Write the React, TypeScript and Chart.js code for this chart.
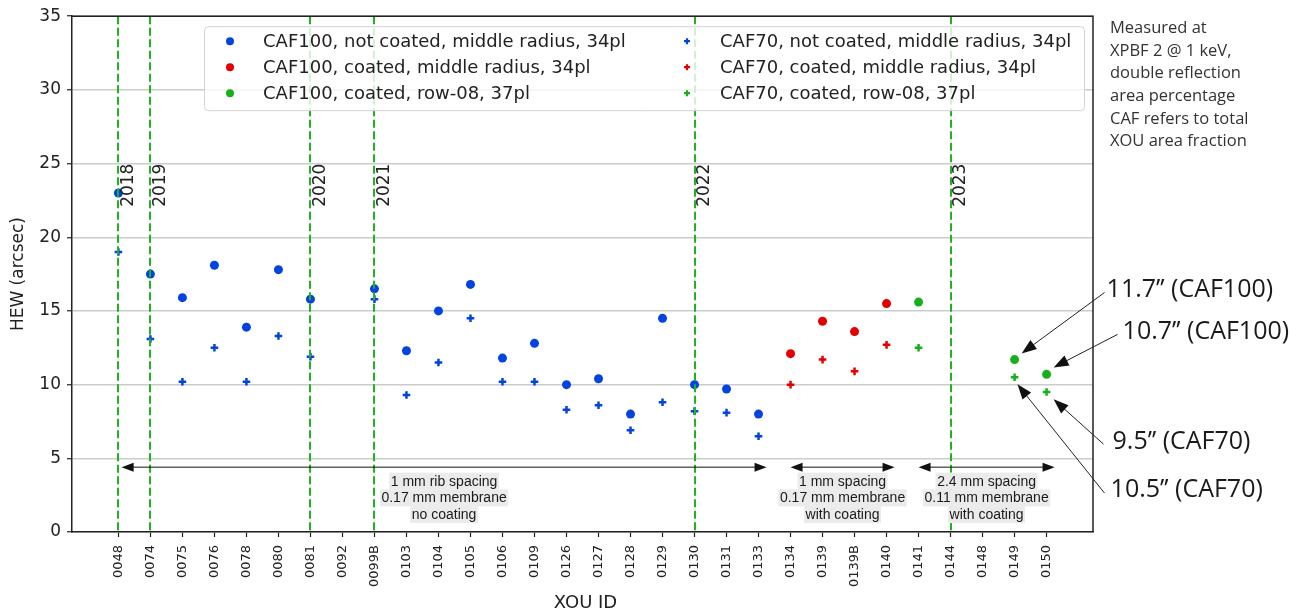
import React, { useEffect, useRef } from 'react';
import { Chart, registerables } from 'chart.js';

Chart.register(...registerables);

// ---------- data ----------
const categories = [
  '0048', '0074', '0075', '0076', '0078', '0080', '0081', '0092', '0099B', '0103',
  '0104', '0105', '0106', '0109', '0126', '0127', '0128', '0129', '0130', '0131',
  '0133', '0134', '0139', '0139B', '0140', '0141', '0144', '0148', '0149', '0150',
];

const caf100NotCoated = [
  23.0, 17.5, 15.9, 18.1, 13.9, 17.8, 15.8, null, 16.5, 12.3,
  15.0, 16.8, 11.8, 12.8, 10.0, 10.4, 8.0, 14.5, 10.0, 9.7,
  8.0, null, null, null, null, null, null, null, null, null,
];
const caf100CoatedMid = [
  null, null, null, null, null, null, null, null, null, null,
  null, null, null, null, null, null, null, null, null, null,
  null, 12.1, 14.3, 13.6, 15.5, null, null, null, null, null,
];
const caf100Row08 = [
  null, null, null, null, null, null, null, null, null, null,
  null, null, null, null, null, null, null, null, null, null,
  null, null, null, null, null, 15.6, null, null, 11.7, 10.7,
];
const caf70NotCoated = [
  19.0, 13.1, 10.2, 12.5, 10.2, 13.3, 11.9, null, 15.8, 9.3,
  11.5, 14.5, 10.2, 10.2, 8.3, 8.6, 6.9, 8.8, 8.2, 8.1,
  6.5, null, null, null, null, null, null, null, null, null,
];
const caf70CoatedMid = [
  null, null, null, null, null, null, null, null, null, null,
  null, null, null, null, null, null, null, null, null, null,
  null, 10.0, 11.7, 10.9, 12.7, null, null, null, null, null,
];
const caf70Row08 = [
  null, null, null, null, null, null, null, null, null, null,
  null, null, null, null, null, null, null, null, null, null,
  null, null, null, null, null, 12.5, null, null, 10.5, 9.5,
];

const seriesLabels = [
  'CAF100, not coated, middle radius, 34pl',
  'CAF100, coated, middle radius, 34pl',
  'CAF100, coated, row-08, 37pl',
  'CAF70, not coated, middle radius, 34pl',
  'CAF70, coated, middle radius, 34pl',
  'CAF70, coated, row-08, 37pl',
];
const seriesValues = [caf100NotCoated, caf100CoatedMid, caf100Row08, caf70NotCoated, caf70CoatedMid, caf70Row08];
const seriesColors = ['#0343df', '#e50000', '#15b01a', '#0343df', '#e50000', '#15b01a'];
const seriesMarkers = ['circle', 'circle', 'circle', 'cross', 'cross', 'cross'];

const yTicks = [0, 5, 10, 15, 20, 25, 30, 35];

const yearLineIdx = [0, 1, 6, 8, 18, 26];
const yearLabels = ['2018', '2019', '2020', '2021', '2022', '2023'];
const yearLabelY = 25;

const spanStarts = [0.1, 21, 25];
const spanEnds = [20.25, 24.25, 29.25];
const spanY = 4.4;
const spanTexts = [
  ['1 mm rib spacing', '0.17 mm membrane', 'no coating'],
  ['1 mm spacing', '0.17 mm membrane', 'with coating'],
  ['2.4 mm spacing', '0.11 mm membrane', 'with coating'],
];

const noteLines = [
  'Measured at',
  'XPBF 2 @ 1 keV,',
  'double reflection',
  'area percentage',
  'CAF refers to total',
  'XOU area fraction',
];

const calloutTexts = ['11.7\u2019\u2019 (CAF100)', '10.7\u2019\u2019 (CAF100)', '9.5\u2019\u2019 (CAF70)', '10.5\u2019\u2019 (CAF70)'];
const calloutTextX = [30.875, 31.375, 31.06, 31.0];
const calloutTextY = [16.45, 13.61, 6.09, 2.84];
const calloutFromX = [30.81, 31.22, 30.78, 30.81];
const calloutFromY = [16.25, 13.41, 5.96, 2.64];
const calloutToX = [28.22, 29.22, 29.22, 28.09];
const calloutToY = [12.12, 11.17, 9.0, 10.02];

// ---------- helpers ----------
function drawHead(ctx: CanvasRenderingContext2D, tx: number, ty: number, fx: number, fy: number, len: number, half: number) {
  const dx = tx - fx;
  const dy = ty - fy;
  const d = Math.hypot(dx, dy) || 1;
  const ux = dx / d;
  const uy = dy / d;
  const bx = tx - ux * len;
  const by = ty - uy * len;
  ctx.beginPath();
  ctx.moveTo(tx, ty);
  ctx.lineTo(bx - uy * half, by + ux * half);
  ctx.lineTo(bx + uy * half, by - ux * half);
  ctx.closePath();
  ctx.fill();
}

function drawMarker(ctx: CanvasRenderingContext2D, kind: string, x: number, y: number, color: string, r: number) {
  ctx.save();
  if (kind === 'circle') {
    ctx.fillStyle = color;
    ctx.beginPath();
    ctx.arc(x, y, r, 0, Math.PI * 2);
    ctx.fill();
  } else {
    ctx.strokeStyle = color;
    ctx.lineWidth = 2.2;
    ctx.beginPath();
    ctx.moveTo(x - r, y);
    ctx.lineTo(x + r, y);
    ctx.moveTo(x, y - r);
    ctx.lineTo(x, y + r);
    ctx.stroke();
  }
  ctx.restore();
}

const overlayPlugin = {
  id: 'overlay',
  afterDatasetsDraw(chart: any) {
    const { ctx, chartArea, scales } = chart;
    const xs = scales.x;
    const ys = scales.y;
    ctx.save();
    // vertical year lines
    ctx.strokeStyle = '#1fb41f';
    ctx.lineWidth = 2;
    ctx.setLineDash([8, 3.5]);
    yearLineIdx.forEach((idx) => {
      const x = Math.round(xs.getPixelForValue(idx));
      ctx.beginPath();
      ctx.moveTo(x, chartArea.top);
      ctx.lineTo(x, chartArea.bottom);
      ctx.stroke();
    });
    ctx.setLineDash([]);
    // year labels
    ctx.fillStyle = '#222';
    ctx.font = '17px "DejaVu Sans"';
    ctx.textAlign = 'right';
    ctx.textBaseline = 'top';
    yearLineIdx.forEach((idx, i) => {
      const x = xs.getPixelForValue(idx);
      const y = ys.getPixelForValue(yearLabelY);
      ctx.save();
      ctx.translate(x + 2, y);
      ctx.rotate(-Math.PI / 2);
      ctx.fillText(yearLabels[i], 0, 0);
      ctx.restore();
    });
    ctx.restore();
  },
  afterDraw(chart: any) {
    const { ctx, chartArea, scales } = chart;
    const xs = scales.x;
    const ys = scales.y;
    ctx.save();
    // top/right spines
    ctx.strokeStyle = '#222';
    ctx.lineWidth = 1.5;
    ctx.beginPath();
    ctx.moveTo(chartArea.left, chartArea.top);
    ctx.lineTo(chartArea.right, chartArea.top);
    ctx.lineTo(chartArea.right, chartArea.bottom);
    ctx.stroke();

    // legend
    const lx = chartArea.left + 132;
    const ly = chartArea.top + 10;
    const lw = 880;
    const lh = 84;
    ctx.fillStyle = 'rgba(255,255,255,0.8)';
    ctx.strokeStyle = '#d4d4d4';
    ctx.lineWidth = 1;
    ctx.beginPath();
    (ctx as any).roundRect(lx + 0.5, ly + 0.5, lw, lh, 4);
    ctx.fill();
    ctx.stroke();
    ctx.font = '18px "DejaVu Sans"';
    ctx.textAlign = 'left';
    ctx.textBaseline = 'middle';
    seriesLabels.forEach((label, i) => {
      const col = Math.floor(i / 3);
      const row = i % 3;
      const mx = lx + 26 + col * 457;
      const my = ly + 15 + row * 26;
      drawMarker(ctx, seriesMarkers[i], mx, my, seriesColors[i], seriesMarkers[i] === 'circle' ? 4 : 3);
      ctx.fillStyle = '#222';
      ctx.fillText(label, mx + 33, my + 1);
    });

    // span arrows with labels
    ctx.strokeStyle = '#111';
    ctx.fillStyle = '#111';
    ctx.lineWidth = 1;
    const ay = ys.getPixelForValue(spanY);
    spanStarts.forEach((s, i) => {
      const x1 = xs.getPixelForValue(s);
      const x2 = xs.getPixelForValue(spanEnds[i]);
      ctx.beginPath();
      ctx.moveTo(x1 + 6, ay);
      ctx.lineTo(x2 - 6, ay);
      ctx.stroke();
      drawHead(ctx, x1, ay, x2, ay, 12, 4.5);
      drawHead(ctx, x2, ay, x1, ay, 12, 4.5);
      const cx = (x1 + x2) / 2;
      ctx.font = '14px "Liberation Sans"';
      ctx.textAlign = 'center';
      ctx.textBaseline = 'middle';
      spanTexts[i].forEach((t, j) => {
        const ty = ay + 14 + j * 16.7;
        const w = ctx.measureText(t).width;
        ctx.fillStyle = '#ebebeb';
        ctx.fillRect(cx - w / 2 - 1.5, ty - 8.5, w + 3, 17);
        ctx.fillStyle = '#1a1a1a';
        ctx.fillText(t, cx, ty + 0.5);
      });
      ctx.fillStyle = '#111';
    });

    // callouts
    ctx.strokeStyle = '#222';
    ctx.fillStyle = '#111';
    ctx.lineWidth = 1;
    calloutTexts.forEach((t, i) => {
      const fx = xs.getPixelForValue(calloutFromX[i]);
      const fy = ys.getPixelForValue(calloutFromY[i]);
      const tx = xs.getPixelForValue(calloutToX[i]);
      const ty = ys.getPixelForValue(calloutToY[i]);
      const d = Math.hypot(tx - fx, ty - fy);
      const ex = tx - ((tx - fx) / d) * 12;
      const ey = ty - ((ty - fy) / d) * 12;
      ctx.beginPath();
      ctx.moveTo(fx, fy);
      ctx.lineTo(ex, ey);
      ctx.stroke();
      drawHead(ctx, tx, ty, fx, fy, 15, 5.5);
      ctx.font = '25px "Open Sans"';
      ctx.textAlign = 'left';
      ctx.textBaseline = 'middle';
      ctx.fillStyle = '#1a1a1a';
      ctx.fillText(t, xs.getPixelForValue(calloutTextX[i]), ys.getPixelForValue(calloutTextY[i]));
      ctx.fillStyle = '#111';
    });

    // side note
    ctx.font = '16.5px "Open Sans"';
    ctx.fillStyle = '#333';
    ctx.textAlign = 'left';
    ctx.textBaseline = 'middle';
    noteLines.forEach((t, i) => {
      ctx.fillText(t, chartArea.right + 17, chartArea.top + 12 + i * 22.7);
    });

    // axis titles
    ctx.fillStyle = '#222';
    ctx.font = '17px "DejaVu Sans"';
    ctx.textAlign = 'center';
    ctx.textBaseline = 'middle';
    ctx.save();
    ctx.translate(19, (chartArea.top + chartArea.bottom) / 2);
    ctx.rotate(-Math.PI / 2);
    ctx.fillText('HEW (arcsec)', 0, 0);
    ctx.restore();
    ctx.font = '18px "DejaVu Sans"';
    ctx.fillText('XOU ID', (chartArea.left + chartArea.right) / 2 + 3, 603);
    ctx.restore();
  },
};

export default function App() {
  const canvasRef = useRef<HTMLCanvasElement | null>(null);

  useEffect(() => {
    document.body.style.margin = '0';
    const canvas = canvasRef.current;
    if (!canvas) return;
    const datasets = seriesLabels.map((label, i) => {
      const isCircle = seriesMarkers[i] === 'circle';
      return {
        label,
        data: seriesValues[i]
          .map((v, idx) => (v == null ? null : { x: idx, y: v }))
          .filter((p) => p !== null),
        backgroundColor: seriesColors[i],
        borderColor: seriesColors[i],
        pointStyle: isCircle ? 'circle' : 'cross',
        pointRadius: isCircle ? 4.5 : 3.8,
        pointBorderWidth: isCircle ? 0 : 2.5,
        order: i,
      };
    });

    const chart = new Chart(canvas, {
      type: 'scatter',
      data: { datasets: datasets as any },
      options: {
        animation: false,
        responsive: false,
        maintainAspectRatio: false,
        layout: { padding: { top: 15, right: 214, left: 0, bottom: 0 } },
        plugins: { legend: { display: false }, tooltip: { enabled: false } },
        scales: {
          x: {
            type: 'linear',
            min: -1.45,
            max: 30.45,
            afterBuildTicks: (s: any) => {
              s.ticks = categories.map((_, i) => ({ value: i }));
            },
            afterFit: (s: any) => {
              s.height = 83;
            },
            ticks: {
              autoSkip: false,
              minRotation: 90,
              maxRotation: 90,
              padding: 8,
              color: '#222',
              font: { family: 'DejaVu Sans', size: 13 },
              callback: (v: any) => categories[v] ?? '',
            },
            grid: { drawOnChartArea: false, drawTicks: true, tickLength: 5, tickColor: '#222', tickWidth: 1.2 },
            border: { display: true, color: '#222', width: 1.5 },
          },
          y: {
            min: 0,
            max: 35,
            afterBuildTicks: (s: any) => {
              s.ticks = yTicks.map((v) => ({ value: v }));
            },
            afterFit: (s: any) => {
              s.width = 72;
            },
            ticks: {
              padding: 6,
              color: '#222',
              font: { family: 'DejaVu Sans', size: 17 },
            },
            grid: { color: '#cccccc', lineWidth: 1.5, tickLength: 5, tickColor: '#222', tickWidth: 1.2 },
            border: { display: true, color: '#222', width: 1.5 },
          },
        },
      },
      plugins: [overlayPlugin],
    });
    return () => chart.destroy();
  }, []);

  return (
    <div style={{ width: 1307, height: 615, background: '#fff' }}>
      <canvas ref={canvasRef} width={1307} height={615} style={{ display: 'block' }} />
    </div>
  );
}
